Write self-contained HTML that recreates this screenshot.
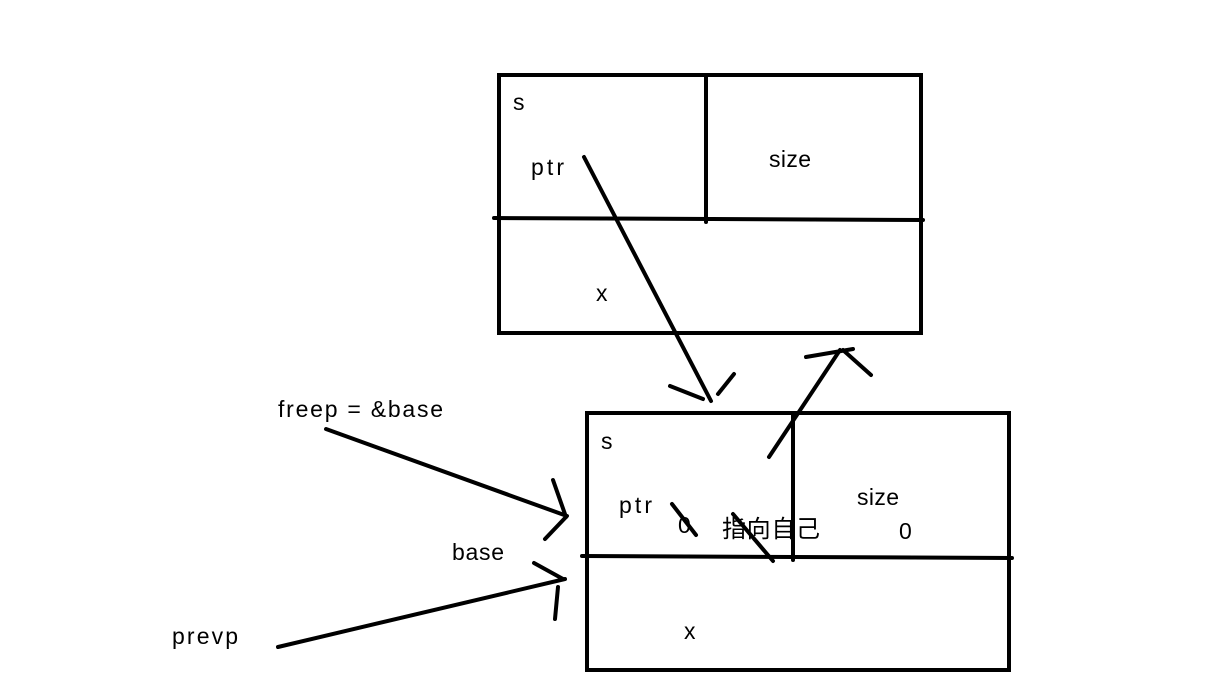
<!DOCTYPE html>
<html><head><meta charset="utf-8"><style>
body{margin:0;background:#fff;width:1218px;height:678px;overflow:hidden}
text{font-family:"Liberation Sans","Noto Sans CJK SC",sans-serif;font-size:23px;fill:#000}
</style></head><body>
<svg width="1218" height="678" viewBox="0 0 1218 678">
<g stroke="#000" stroke-width="4" fill="none" stroke-linecap="round">
<rect x="499" y="75" width="422" height="258"/>
<line x1="706" y1="75" x2="706" y2="222"/>
<line x1="494" y1="218" x2="923" y2="220"/>
<rect x="587" y="413" width="422" height="257"/>
<line x1="793" y1="413" x2="793" y2="560"/>
<line x1="582" y1="556" x2="1012" y2="558"/>
<line x1="584" y1="157" x2="711" y2="401"/>
<line x1="670" y1="386" x2="703" y2="399"/>
<line x1="718" y1="394" x2="734" y2="374"/>
<line x1="769" y1="457" x2="840" y2="350"/>
<line x1="806" y1="357" x2="853" y2="349"/>
<line x1="843" y1="350" x2="871" y2="375"/>
<line x1="326" y1="429" x2="567" y2="516"/>
<line x1="553" y1="480" x2="566" y2="517"/>
<line x1="566" y1="517" x2="545" y2="539"/>
<line x1="278" y1="647" x2="565" y2="579"/>
<line x1="534" y1="563" x2="563" y2="579"/>
<line x1="558" y1="587" x2="555" y2="619"/>
<line x1="672" y1="504" x2="696" y2="535"/>
<line x1="733" y1="514" x2="773" y2="561"/>
</g>
<text x="513" y="110">s</text>
<text x="531" y="175" textLength="33">ptr</text>
<text x="769" y="167" textLength="42">size</text>
<text x="596" y="301">x</text>
<text x="601" y="449">s</text>
<text x="619" y="513" textLength="33">ptr</text>
<text x="678" y="533">0</text>
<text x="722" y="537" style="font-size:24px" textLength="98">指向自己</text>
<text x="857" y="505" textLength="42">size</text>
<text x="899" y="539">0</text>
<text x="684" y="639">x</text>
<text x="278" y="417" textLength="165">freep = &amp;base</text>
<text x="452" y="560" textLength="52">base</text>
<text x="172" y="644" textLength="66">prevp</text>
</svg>
</body></html>
